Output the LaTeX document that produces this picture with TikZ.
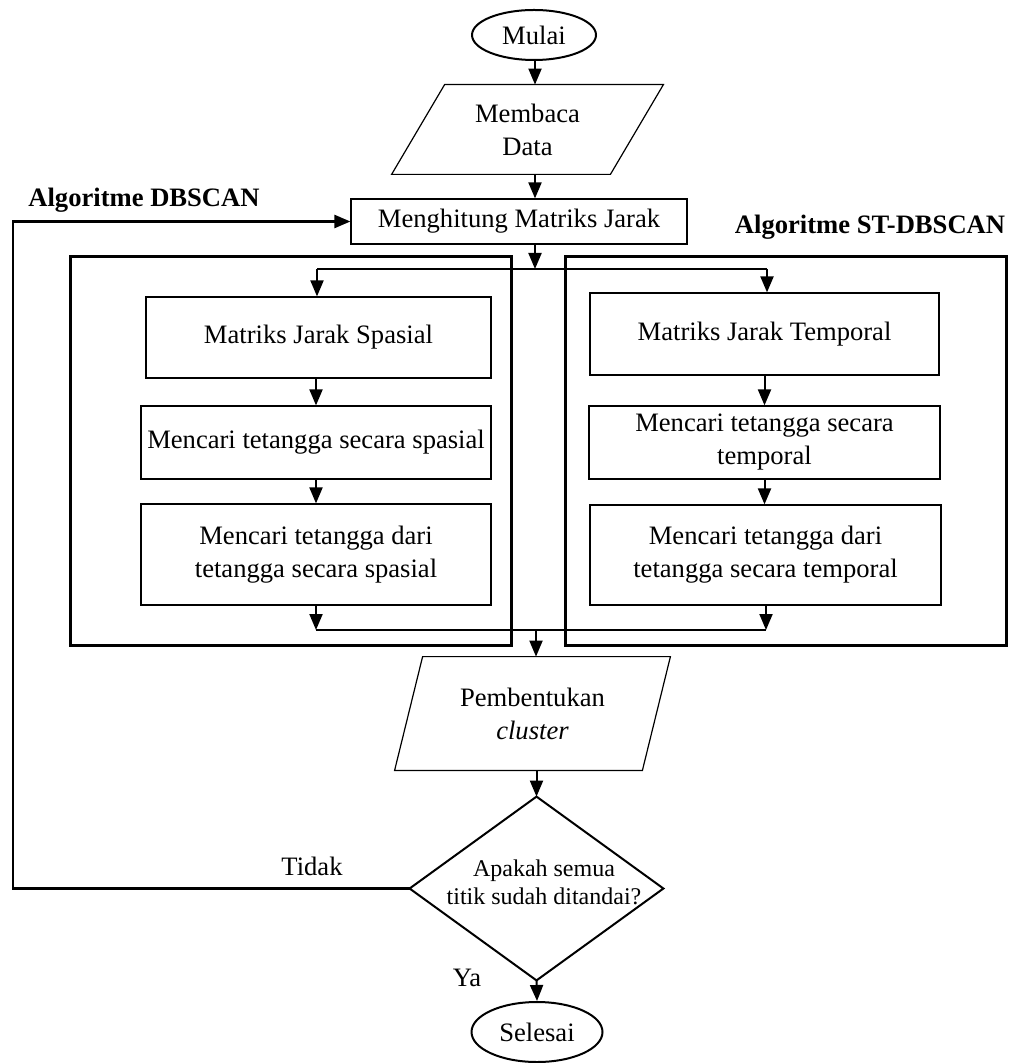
\documentclass[tikz,border=0pt]{standalone}
\usepackage{fontspec}
\setmainfont{Liberation Serif}
\usetikzlibrary{arrows.meta,shapes.geometric,calc}
\begin{document}
\begin{tikzpicture}[x=0.5pt,y=-0.5pt,
  base/.style={font=\fontsize{13.3}{16.5}\selectfont, align=center, inner sep=0pt},
  proc/.style={base, draw, line width=0.6pt, rectangle},
  term/.style={base, draw, line width=1pt, ellipse},
  io/.style={base, rectangle},
  shapeline/.style={line width=0.6pt},
  arr/.style={line width=1pt, -{Triangle[length=8pt,width=6.5pt]}},
  ln/.style={line width=1pt},
  grp/.style={draw, line width=1.5pt, rectangle, inner sep=0pt},
  lbl/.style={font=\bfseries\fontsize{13.3}{16}\selectfont, inner sep=0pt},
]
\useasboundingbox (0,0) rectangle (1016,1063);

% groups
\node[grp, minimum width=220.5pt, minimum height=194pt] (grpL) at (290.5,451) {};
\node[grp, minimum width=220.5pt, minimum height=194pt] (grpR) at (785.5,451) {};

% main flow
\node[term, minimum width=62pt, minimum height=25pt] (mulai) at (534,35) {Mulai};
\node[io, minimum width=135.5pt, minimum height=44.5pt] (membaca) at (527.5,129.5) {Membaca\\Data};
\draw[shapeline] ([xshift=26.5pt]membaca.north west) -- (membaca.north east)
  -- ([xshift=-26.5pt]membaca.south east) -- (membaca.south west) -- cycle;
\node[proc, minimum width=168pt, minimum height=22.5pt] (hitung) at (519,221.5) {Menghitung Matriks Jarak};

% spatial
\node[proc, minimum width=172.5pt, minimum height=40.5pt] (s1) at (318.5,337.5) {Matriks Jarak Spasial};
\node[proc, minimum width=175pt, minimum height=36.5pt] (s2) at (316,442.5) {Mencari tetangga secara spasial};
\node[proc, minimum width=175pt, minimum height=50.5pt] (s3) at (316,554.5) {Mencari tetangga dari\\tetangga secara spasial};

% temporal
\node[proc, minimum width=174.5pt, minimum height=41pt] (t1) at (764.5,334) {Matriks Jarak Temporal};
\node[proc, minimum width=175.5pt, minimum height=36.5pt] (t2) at (764.5,442.5) {Mencari tetangga secara\\temporal};
\node[proc, minimum width=175.5pt, minimum height=50pt] (t3) at (765.5,555) {Mencari tetangga dari\\tetangga secara temporal};

% cluster
\node[io, minimum width=137.5pt, minimum height=56.5pt] (bentuk) at (532.5,713.5) {Pembentukan\\\textit{cluster}};
\draw[shapeline] ([xshift=14pt]bentuk.north west) -- (bentuk.north east)
  -- ([xshift=-14pt]bentuk.south east) -- (bentuk.south west) -- cycle;

% decision
\node[base, minimum width=126.5pt, minimum height=91.5pt] (cek) at (536.5,888.5) {};
\draw[line width=1pt] (cek.north) -- (cek.east) -- (cek.south) -- (cek.west) -- cycle;
\node[base, font=\fontsize{12}{14}\selectfont] (cektxt) at (544,882) {Apakah semua\\titik sudah ditandai?};

\node[term, minimum width=65.5pt, minimum height=30pt] (selesai) at (537,1032) {Selesai};

% labels
\node[lbl] (algL) at (144,200) {Algoritme DBSCAN};
\node[lbl] (algR) at (870,227) {Algoritme ST-DBSCAN};
\node[base] (tidak) at (312,866) {Tidak};
\node[base] (ya) at (467,978) {Ya};

% connectors
\coordinate (ax) at (535,0);
\coordinate (splitL) at (317,269);
\coordinate (splitR) at (767,269);
\coordinate (splitM) at (535,269);
\coordinate (joinL) at (316,630);
\coordinate (joinR) at (766,630);
\coordinate (joinM) at (536,630);
\coordinate (fbB) at (13,888.5);
\coordinate (fbT) at (13,221.5);

\draw[arr] (mulai.south -| ax) -- (membaca.north -| ax);
\draw[arr] (membaca.south -| ax) -- (hitung.north -| ax);
\draw[arr] (hitung.south -| ax) -- (splitM);
\draw[ln] (splitL) -- (splitR);
\draw[arr] (splitL) -- (splitL |- s1.north);
\draw[arr] (splitR) -- (splitR |- t1.north);

\draw[arr] (s1.south -| s2.north) -- (s2.north);
\draw[arr] (s2.south) -- (s3.north);
\draw[arr] (s3.south) -- (joinL);

\draw[arr] (t1.south) -- (t2.north);
\draw[arr] (t2.south) -- (t3.north -| t2.south);
\draw[arr] (t3.south -| joinR) -- (joinR);
\draw[ln] (joinL) -- (joinR);

\draw[arr] (joinM) -- (joinM |- bentuk.north);
\draw[arr] (bentuk.south -| cek.north) -- (cek.north);
\draw[arr] (cek.south) -- (selesai.north);

\draw[arr, line width=1.2pt] (cek.west) -- (fbB) -- (fbT) -- (hitung.west);
\end{tikzpicture}
\end{document}
